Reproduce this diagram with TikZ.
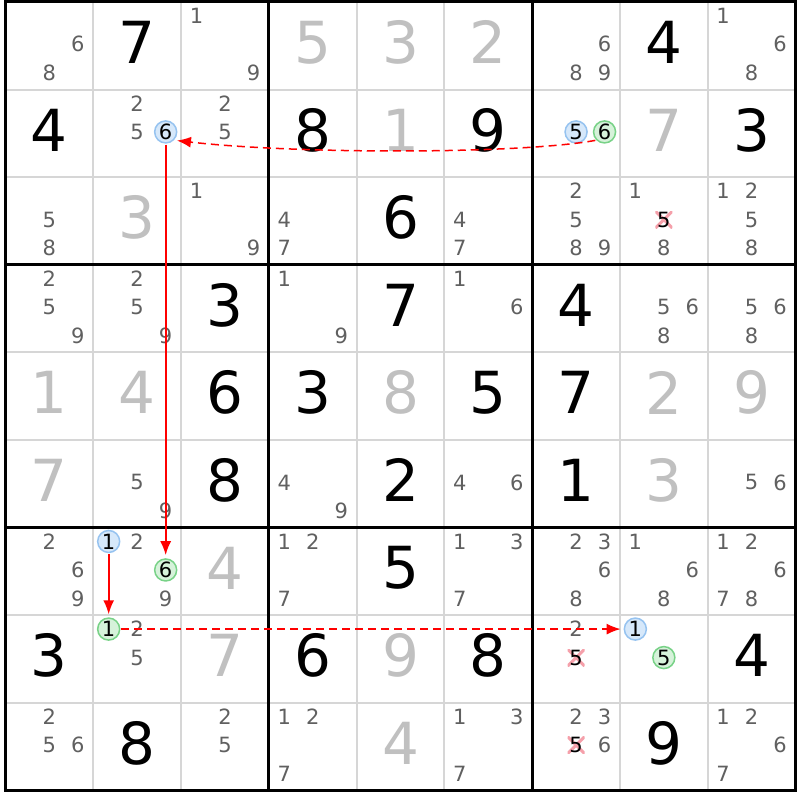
\documentclass[tikz,border=0pt]{standalone}
\usepackage{fontspec}
\setmainfont{DejaVu Sans}
\usetikzlibrary{arrows.meta}
\definecolor{candgray}{RGB}{96,96,96}
\definecolor{solvedgray}{RGB}{192,192,192}
\definecolor{gridgray}{RGB}{214,214,214}
\definecolor{bluefill}{RGB}{214,232,250}
\definecolor{blueline}{RGB}{150,195,240}
\definecolor{greenfill}{RGB}{214,242,218}
\definecolor{greenline}{RGB}{120,210,135}
\definecolor{xpink}{RGB}{245,160,170}
\definecolor{linkred}{RGB}{255,0,0}
\newcommand\XO{5.5}
\newcommand\YO{2}
\newcommand\CX{87.78}
\newcommand\CY{87.61}
\newcommand\SO{28.5}
\newcommand\bigdigitfont{\fontsize{58}{58}\selectfont}
\newcommand\smalldigitfont{\fontsize{21}{21}\selectfont}
\begin{document}
\begin{tikzpicture}[x=1pt,y=-1pt,
  given/.style={inner sep=0pt, font=\bigdigitfont, text=black},
  solved/.style={inner sep=0pt, font=\bigdigitfont, text=solvedgray},
  cand/.style={inner sep=0pt, font=\smalldigitfont, text=candgray},
  bluecand/.style={circle, inner sep=0pt, minimum size=22pt, font=\smalldigitfont, text=black, fill=bluefill, draw=blueline, line width=1.5pt},
  greencand/.style={circle, inner sep=0pt, minimum size=22pt, font=\smalldigitfont, text=black, fill=greenfill, draw=greenline, line width=1.5pt},
  elimcand/.style={inner sep=0pt, minimum width=17pt, minimum height=17pt, font=\smalldigitfont, text=black,
    path picture={\draw[xpink, line width=3pt] (path picture bounding box.south west) -- (path picture bounding box.north east)
      (path picture bounding box.north west) -- (path picture bounding box.south east);}},
  thingrid/.style={draw=gridgray, line width=2pt},
  boxline/.style={draw=black, line width=3pt},
  strong/.style={draw=linkred, line width=1.8pt, -{Latex[length=14pt,width=11pt]}, shorten >=3pt, shorten <=1pt},
  weak/.style={strong, line width=1.5pt, dash pattern=on 8pt off 5pt}
]
\useasboundingbox (0,0) rectangle (800,800);
\fill[white] (0,0) rectangle (800,800);
% thin grid lines
\foreach \i in {1,2,4,5,7,8} {
  \draw[thingrid] ({\XO+\i*\CX},\YO) -- ({\XO+\i*\CX},{\YO+9*\CY});
  \draw[thingrid] (\XO,{\YO+\i*\CY}) -- ({\XO+9*\CX},{\YO+\i*\CY});
}
% box lines
\foreach \i in {3,6} {
  \draw[boxline] ({\XO+\i*\CX},\YO) -- ({\XO+\i*\CX},{\YO+9*\CY});
  \draw[boxline] (\XO,{\YO+\i*\CY}) -- ({\XO+9*\CX},{\YO+\i*\CY});
}
\draw[boxline] (\XO,\YO) rectangle ({\XO+9*\CX},{\YO+9*\CY});
% given digits
\foreach \r/\c/\d in {1/2/7,1/8/4,2/1/4,2/4/8,2/6/9,2/9/3,3/5/6,4/3/3,4/5/7,4/7/4,5/3/6,5/4/3,5/6/5,5/7/7,6/3/8,6/5/2,6/7/1,7/5/5,8/1/3,8/4/6,8/6/8,8/9/4,9/2/8,9/8/9}
  \node[given] (g\r\c) at ({\XO+(\c-0.5)*\CX},{\YO+(\r-0.5)*\CY-3.5}) {\d};
% solved digits
\foreach \r/\c/\d in {1/4/5,1/5/3,1/6/2,2/5/1,2/8/7,3/2/3,5/1/1,5/2/4,5/5/8,5/8/2,5/9/9,6/1/7,6/8/3,7/3/4,8/3/7,8/5/9,9/5/4}
  \node[solved] (g\r\c) at ({\XO+(\c-0.5)*\CX},{\YO+(\r-0.5)*\CY-3.5}) {\d};
% candidates
\foreach \r/\c/\d in {1/1/6,1/1/8,1/3/1,1/3/9,1/7/6,1/7/8,1/7/9,1/9/1,1/9/6,1/9/8,
  2/2/2,2/2/5,2/3/2,2/3/5,
  3/1/5,3/1/8,3/3/1,3/3/9,3/4/4,3/4/7,3/6/4,3/6/7,3/7/2,3/7/5,3/7/8,3/7/9,3/8/1,3/8/8,3/9/1,3/9/2,3/9/5,3/9/8,
  4/1/2,4/1/5,4/1/9,4/2/2,4/2/5,4/2/9,4/4/1,4/4/9,4/6/1,4/6/6,4/8/5,4/8/6,4/8/8,4/9/5,4/9/6,4/9/8,
  6/2/5,6/2/9,6/4/4,6/4/9,6/6/4,6/6/6,6/9/5,6/9/6,
  7/1/2,7/1/6,7/1/9,7/2/2,7/2/9,7/4/1,7/4/2,7/4/7,7/6/1,7/6/3,7/6/7,7/7/2,7/7/3,7/7/6,7/7/8,7/8/1,7/8/6,7/8/8,7/9/1,7/9/2,7/9/6,7/9/7,7/9/8,
  8/2/2,8/2/5,8/7/2,
  9/1/2,9/1/5,9/1/6,9/3/2,9/3/5,9/4/1,9/4/2,9/4/7,9/6/1,9/6/3,9/6/7,9/7/2,9/7/3,9/7/6,9/9/1,9/9/2,9/9/6,9/9/7}
  \node[cand] (c\r\c-\d) at ({\XO+(\c-0.5)*\CX+(mod(\d-1,3)-1)*\SO},{\YO+(\r-0.5)*\CY+(floor((\d-1)/3)-1)*\SO-1.5}) {\d};
% eliminated candidates
\foreach \r/\c/\d in {3/8/5,8/7/5,9/7/5}
  \node[elimcand] (c\r\c-\d) at ({\XO+(\c-0.5)*\CX+(mod(\d-1,3)-1)*\SO},{\YO+(\r-0.5)*\CY+(floor((\d-1)/3)-1)*\SO-1.5}) {\d};
% blue highlighted candidates
\foreach \r/\c/\d in {2/2/6,2/7/5,7/2/1,8/8/1}
  \node[bluecand] (c\r\c-\d) at ({\XO+(\c-0.5)*\CX+(mod(\d-1,3)-1)*\SO},{\YO+(\r-0.5)*\CY+(floor((\d-1)/3)-1)*\SO-1.5}) {\d};
% green highlighted candidates
\foreach \r/\c/\d in {2/7/6,7/2/6,8/2/1,8/8/5}
  \node[greencand] (c\r\c-\d) at ({\XO+(\c-0.5)*\CX+(mod(\d-1,3)-1)*\SO},{\YO+(\r-0.5)*\CY+(floor((\d-1)/3)-1)*\SO-1.5}) {\d};
% links
\draw[weak] (c27-6.south west) .. controls +(-77,14) and +(123,14) .. (c22-6.south east);
\draw[strong] (c22-6) -- (c72-6);
\draw[strong] (c72-1) -- (c82-1);
\draw[weak] (c82-1) -- (c88-1);
\end{tikzpicture}
\end{document}
